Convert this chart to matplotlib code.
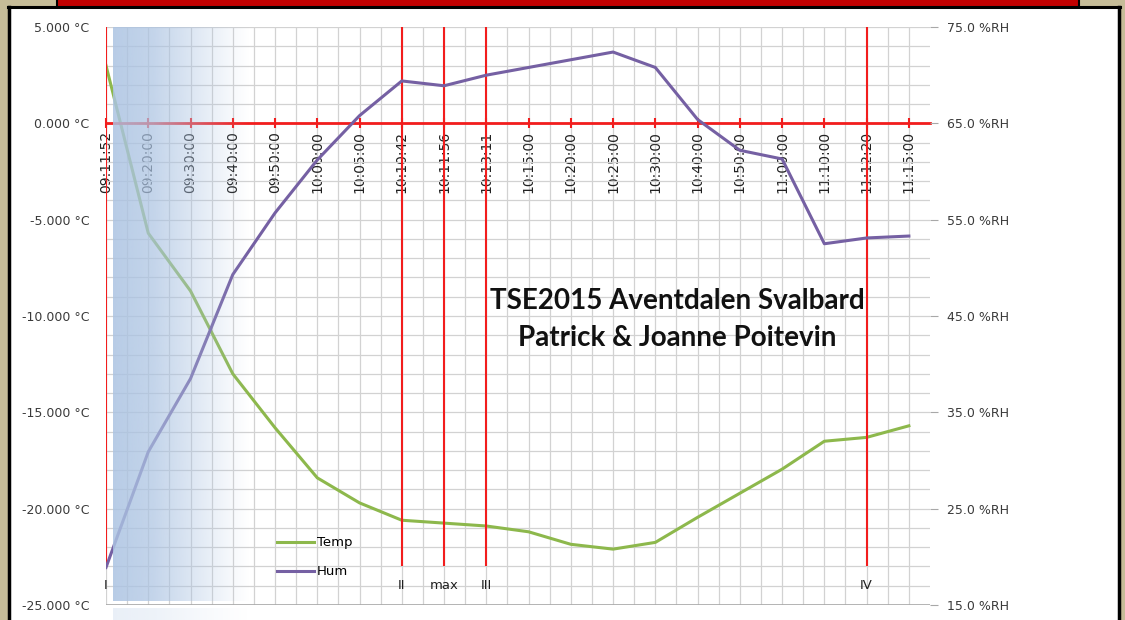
import matplotlib.pyplot as plt
import numpy as np
from matplotlib.patches import Rectangle
from matplotlib.lines import Line2D

# category labels (sample times) and readings
times = ["09:11:52", "09:20:00", "09:30:00", "09:40:00", "09:50:00", "10:00:00",
         "10:05:00", "10:10:42", "10:11:56", "10:13:11", "10:15:00", "10:20:00",
         "10:25:00", "10:30:00", "10:40:00", "10:50:00", "11:00:00", "11:10:00",
         "11:12:20", "11:15:00"]
temp = [3.0, -5.7, -8.7, -13.0, -15.8, -18.4, -19.7, -20.6, -20.75, -20.9,
        -21.2, -21.85, -22.1, -21.75, -20.45, -19.2, -17.95, -16.5, -16.3, -15.7]
hum = [18.9, 30.9, 38.5, 49.3, 55.7, 61.2, 65.8, 69.4, 68.9, 70.0,
       70.8, 71.6, 72.4, 70.8, 65.4, 62.2, 61.3, 52.5, 53.1, 53.3]

# eclipse contact markers
contact_idx = [0, 7, 8, 9, 18]
contact_lbl = ["I", "II", "max", "III", "IV"]

title1 = "TSE2015 Aventdalen Svalbard"
title2 = "Patrick & Joanne Poitevin"

W, H = 1125, 620
tan = "#C6BC98"
red = "#F21D1D"
txt = "#3A3A3A"


def fx(px):
    return px / W


def fy(py):
    return 1 - py / H


fig = plt.figure(figsize=(W / 100, H / 100), dpi=100)
fig.patch.set_facecolor(tan)

# white panel with black frame, red banner on top
fig.add_artist(Rectangle((fx(9), 0), fx(1110), fy(7), transform=fig.transFigure,
                         facecolor="white", edgecolor="none", zorder=0))
fig.add_artist(Rectangle((fx(57), fy(7)), fx(1022), 7 / H, transform=fig.transFigure,
                         facecolor="#C00000", edgecolor="none", zorder=0))
fig.add_artist(Line2D([fx(9), fx(9)], [0, fy(7)], transform=fig.transFigure, color="black", lw=2.5))
fig.add_artist(Line2D([fx(1119), fx(1119)], [0, fy(7)], transform=fig.transFigure, color="black", lw=2.5))
fig.add_artist(Line2D([fx(8), fx(1120)], [fy(7), fy(7)], transform=fig.transFigure, color="black", lw=2.2))
fig.add_artist(Line2D([fx(57), fx(57)], [fy(7), 1], transform=fig.transFigure, color="black", lw=1.5))
fig.add_artist(Line2D([fx(1079), fx(1079)], [fy(7), 1], transform=fig.transFigure, color="black", lw=1.5))

ax = fig.add_axes([fx(106), fy(605), fx(930 - 106), (605 - 27) / H])
ax.set_facecolor("none")
x = np.arange(len(times))

for s in ["top", "left", "right"]:
    ax.spines[s].set_visible(False)
ax.spines["bottom"].set_position(("data", 0))
ax.spines["bottom"].set_color(red)
ax.spines["bottom"].set_linewidth(2)
ax.spines["bottom"].set_zorder(3)

ax.set_xlim(0, 19.5)
ax.set_ylim(-25, 5)
ax.set_xticks(x)
ax.set_xticklabels(times, rotation=90, fontsize=10, color="#202020")
ax.set_xticks(np.arange(0, 19.5, 0.5), minor=True)
ax.set_yticks(np.arange(-25, 6, 5))
ax.set_yticklabels([f"{v:.3f} °C" for v in np.arange(-25, 6, 5)], fontsize=9, color=txt)
ax.set_yticks(np.arange(-25, 6, 1), minor=True)
ax.grid(which="both", color="#D2D2D2", lw=0.9)
ax.set_axisbelow(True)
ax.tick_params(axis="x", which="major", direction="inout", length=7, width=1.5, color=red, pad=2)
ax.tick_params(axis="x", which="minor", length=0)
ax.tick_params(axis="y", which="both", length=0, pad=12)

ax.plot(x, temp, color="#8DB84C", lw=2.2, zorder=2)
ax.vlines(contact_idx, -23.0, 5, color=red, lw=1.5, zorder=2)
for i, lab in zip(contact_idx, contact_lbl):
    ax.text(i, -24.0, lab, ha="center", va="center", fontsize=9.5, color="#202020")
ax.axhline(-25, color="#A8A8A8", lw=1.2)

ax2 = ax.twinx()
ax2.set_ylim(15, 75)
ax2.set_yticks(np.arange(15, 76, 10))
ax2.set_yticklabels([f"{v:.1f} %RH" for v in np.arange(15, 76, 10)], fontsize=9, color=txt)
ax2.tick_params(axis="y", direction="out", length=6, color="#A8A8A8", pad=6)
for s in ["top", "left", "right", "bottom"]:
    ax2.spines[s].set_visible(False)
ax2.plot(x, hum, color="#7560A3", lw=2.2)

ax2.text(0.693, 0.526, title1, transform=ax2.transAxes, ha="center", va="center",
         fontsize=20, fontweight="bold", family="Lato", color="#111111")
ax2.text(0.693, 0.462, title2, transform=ax2.transAxes, ha="center", va="center",
         fontsize=20, fontweight="bold", family="Lato", color="#111111")

handles = [Line2D([], [], color="#8DB84C", lw=2.2), Line2D([], [], color="#7560A3", lw=2.2)]
ax2.legend(handles, ["Temp", "Hum"], loc="lower left", bbox_to_anchor=(0.2, 0.035),
           frameon=False, fontsize=9.5, handlelength=2.8, handletextpad=0.2,
           labelspacing=1.2, borderpad=0)

# faded blue gradient overlay on the left
t = np.linspace(0, 1, 256)
alpha = np.interp(t, [0, 0.3, 0.6, 0.85, 1], [0.85, 0.7, 0.38, 0.12, 0.0])
rgba = np.zeros((1, 256, 4))
rgba[..., :3] = np.array([171, 195, 226]) / 255
rgba[..., 3] = alpha
ov = fig.add_axes([fx(113), fy(601), fx(250 - 113), (601 - 27) / H])
ov.imshow(rgba, aspect="auto", extent=(0, 1, 0, 1))
ov.axis("off")
ov.set_zorder(5)

rgba2 = rgba.copy()
rgba2[..., 3] = alpha * 0.3
ov2 = fig.add_axes([fx(113), 0, fx(250 - 113), 12 / H])
ov2.imshow(rgba2, aspect="auto", extent=(0, 1, 0, 1))
ov2.axis("off")
ov2.set_zorder(5)

fig.savefig("out.png", dpi=100, facecolor=fig.get_facecolor())
